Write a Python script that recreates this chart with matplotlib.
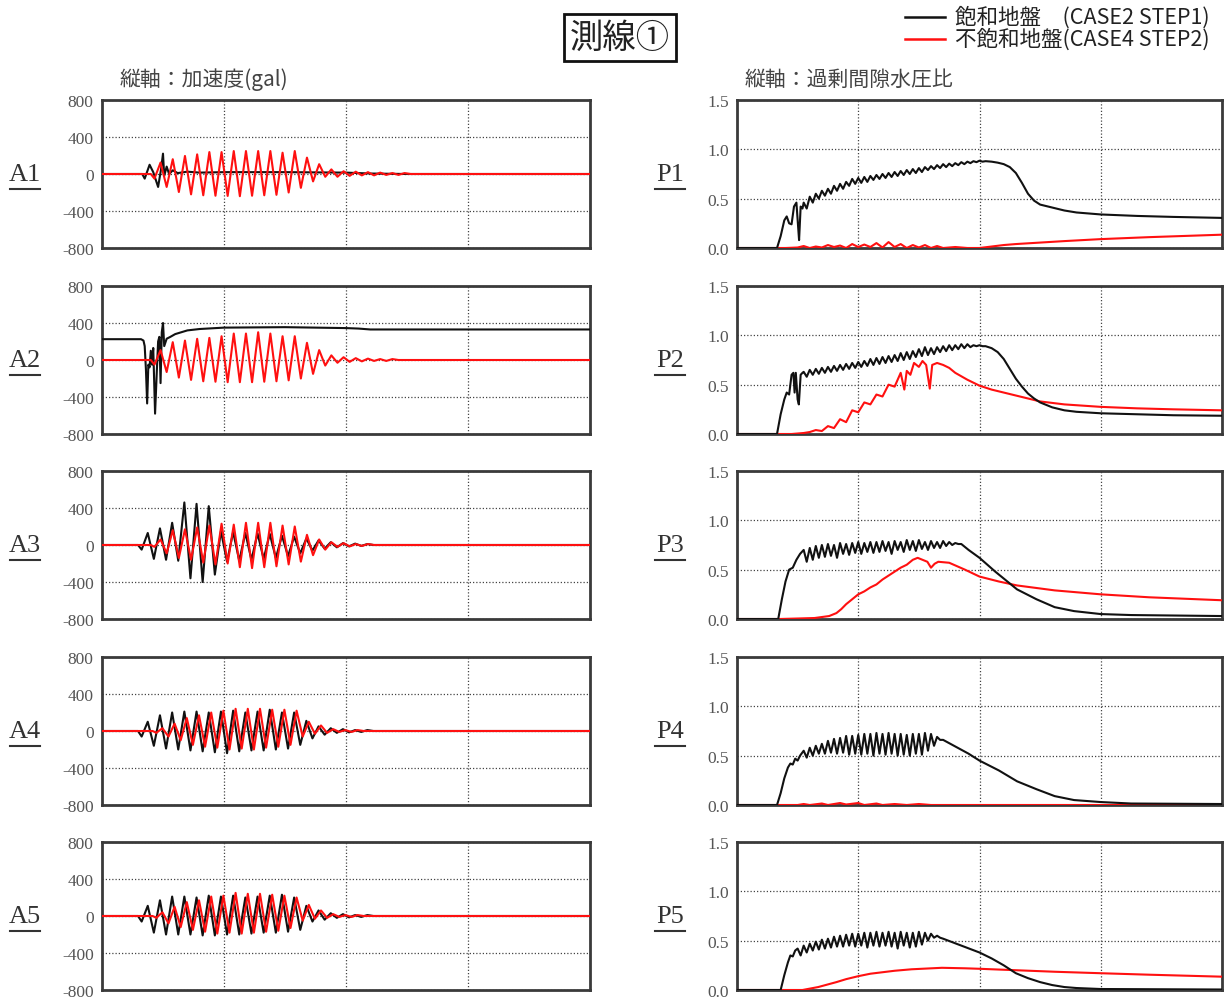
import matplotlib
matplotlib.use("Agg")
import numpy as np
import matplotlib.pyplot as plt
from matplotlib.lines import Line2D

plt.rcParams['font.family'] = ['Noto Sans CJK JP', 'DejaVu Sans']

W, H = 1230, 1003
T_END = 40.0
HALF = 0.5          # half period of the 1 Hz shaking (s)
PORE_STEP = 0.5     # spacing of pore-pressure upper peaks (s)

# ---------------- acceleration (gal) ----------------
# irregular traces: explicit (time, value)
a1_sat_t = [0, 3.3, 3.5, 3.9, 4.2, 4.6, 4.85, 5.0, 5.1, 5.3, 5.5, 5.8, 6.2, 7.0, 8.0, 10.0, 15.0, 20.0, 22.0, 25.0, 40.0]
a1_sat_v = [0, 0, -50, 100, 20, -140, 60, 220, -20, 80, 0, 40, 10, 25, 15, 20, 20, 15, 5, 0, 0]

a2_sat_t = [0, 3.2, 3.4, 3.5, 3.6, 3.7, 3.8, 3.9, 4.0, 4.1, 4.2, 4.35, 4.5, 4.6, 4.7, 4.8,
            4.9, 5.0, 5.1, 5.3, 5.6, 6.0, 6.5, 7.0, 8.0, 10.0, 15.0, 20.0, 21.0, 22.0, 25.0, 40.0]
a2_sat_v = [225, 225, 210, 150, -100, -470, -50, -80, 100, -50, 130, -580, -100, 200, 250, -250,
            300, 400, 150, 230, 250, 280, 300, 320, 335, 350, 355, 345, 340, 330, 330, 330]

# cyclic traces: onset time and successive half-cycle extrema
a1_uns_t0 = 4.3
a1_uns = [-50, 124, -140, 160, -195, 195, -220, 212, -230, 237, -235, 237, -237, 248, -240, 248,
          -235, 248, -230, 248, -225, 230, -200, 248, -150, 177, -80, 106, -30, 50, -30, 30,
          -20, 25, -15, 20, -15, 15, -10, 10, -10, 10]
a2_uns_t0 = 4.3
a2_uns = [-50, 107, -130, 193, -190, 210, -215, 229, -230, 239, -235, 257, -240, 286, -240, 286,
          -240, 300, -235, 286, -230, 257, -220, 257, -200, 186, -150, 107, -60, 50, -30, 30,
          -20, 20, -15, 15, -10, 10, -10, 10]
a3_sat_t0 = 3.25
a3_sat = [-50, 130, -150, 180, -160, 240, -170, 460, -360, 445, -400, 420, -320, 150, -180, 140,
          -170, 130, -160, 125, -150, 120, -140, 100, -120, 90, -90, 70, -60, 50, -40, 30,
          -25, 20, -15, 15, -10, 10]
a3_uns_t0 = 4.3
a3_uns = [-20, 60, -90, 160, -140, 170, -160, 190, -190, 210, -210, 230, -200, 220, -240, 240,
          -250, 240, -240, 240, -230, 210, -210, 200, -180, 110, -110, 60, -50, 30, -20, 20,
          -15, 10, -10, 10]
a4_sat_t0 = 3.25
a4_sat = [-60, 100, -160, 170, -190, 200, -200, 210, -210, 210, -220, 200, -230, 210, -240, 220,
          -220, 200, -210, 210, -210, 230, -200, 200, -190, 200, -150, 110, -80, 50, -40, 30,
          -20, 20, -15, 10, -10, 10]
a4_uns_t0 = 4.45
a4_uns = [-20, 30, -60, 80, -100, 140, -150, 170, -170, 200, -180, 220, -200, 240, -190, 240,
          -200, 240, -180, 230, -170, 230, -150, 220, -60, 100, -30, 60, -20, 20, -10, 10,
          -10, 10]
a5_sat_t0 = 3.25
a5_sat = [-60, 110, -180, 170, -200, 210, -200, 210, -200, 200, -210, 220, -210, 210, -200, 220,
          -200, 200, -190, 210, -180, 220, -180, 230, -170, 200, -150, 110, -60, 60, -40, 30,
          -20, 20, -15, 10, -10, 10]
a5_uns_t0 = 4.45
a5_uns = [-20, 40, -80, 100, -120, 150, -150, 170, -170, 210, -190, 220, -180, 250, -190, 240,
          -180, 240, -170, 230, -160, 220, -130, 200, -50, 120, -30, 60, -20, 20, -10, 10,
          -10, 10]

# ---------------- excess pore-water pressure ratio ----------------
# saturated ground: rise, cyclic band (upper / lower peaks), dissipation
p1_sat_pre_t = [0, 3.3, 3.6, 3.9, 4.1, 4.3, 4.5, 4.7, 4.9, 5.05, 5.12, 5.25, 5.4]
p1_sat_pre_v = [0, 0, 0.12, 0.28, 0.32, 0.25, 0.24, 0.42, 0.46, 0.2, 0.08, 0.42, 0.40]
p1_sat_t0 = 5.5
p1_sat_hi = [0.46, 0.52, 0.55, 0.58, 0.60, 0.63, 0.65, 0.67, 0.70, 0.71, 0.72, 0.73, 0.74, 0.75, 0.76,
             0.77, 0.78, 0.79, 0.80, 0.81, 0.82, 0.83, 0.84, 0.85, 0.855, 0.86, 0.87, 0.875, 0.88, 0.885]
p1_sat_lo = [0.40, 0.46, 0.50, 0.53, 0.55, 0.58, 0.60, 0.63, 0.65, 0.66, 0.67, 0.69, 0.70, 0.71, 0.72,
             0.73, 0.74, 0.75, 0.76, 0.77, 0.79, 0.80, 0.81, 0.82, 0.83, 0.84, 0.85, 0.86, 0.87, 0.875]
p1_sat_post_t = [20.5, 21, 21.5, 22, 22.5, 23, 23.5, 24, 24.5, 25, 26, 27, 28, 30, 33, 36, 40]
p1_sat_post_v = [0.88, 0.875, 0.865, 0.85, 0.82, 0.76, 0.66, 0.55, 0.48, 0.44, 0.41, 0.38, 0.36, 0.34, 0.325, 0.315, 0.305]

p2_sat_pre_t = [0, 3.3, 3.6, 3.9, 4.1, 4.3, 4.5, 4.65, 4.75, 4.85, 5.0, 5.1, 5.25, 5.4]
p2_sat_pre_v = [0, 0, 0.2, 0.35, 0.42, 0.4, 0.6, 0.62, 0.42, 0.62, 0.35, 0.3, 0.6, 0.62]
p2_sat_t0 = 5.5
p2_sat_hi = [0.63, 0.65, 0.66, 0.67, 0.68, 0.69, 0.70, 0.71, 0.72, 0.73, 0.74, 0.76, 0.77, 0.78, 0.79,
             0.80, 0.82, 0.83, 0.84, 0.86, 0.88, 0.87, 0.88, 0.89, 0.90, 0.90, 0.91, 0.91, 0.90, 0.90]
p2_sat_lo = [0.58, 0.60, 0.61, 0.62, 0.63, 0.64, 0.65, 0.66, 0.67, 0.68, 0.69, 0.70, 0.71, 0.72, 0.73,
             0.74, 0.75, 0.76, 0.78, 0.79, 0.80, 0.81, 0.83, 0.84, 0.85, 0.86, 0.87, 0.88, 0.89, 0.89]
p2_sat_post_t = [20.5, 21, 21.5, 22, 22.5, 23, 23.5, 24, 24.5, 25, 26, 27, 28, 30, 33, 36, 40]
p2_sat_post_v = [0.89, 0.87, 0.83, 0.76, 0.66, 0.56, 0.48, 0.41, 0.36, 0.32, 0.27, 0.24, 0.225, 0.21, 0.2, 0.19, 0.185]

p3_sat_pre_t = [0, 3.4, 3.7, 4.0, 4.3, 4.6, 4.9, 5.2]
p3_sat_pre_v = [0, 0, 0.2, 0.38, 0.5, 0.52, 0.6, 0.66]
p3_sat_t0 = 5.5
p3_sat_hi = [0.70, 0.72, 0.74, 0.75, 0.76, 0.75, 0.77, 0.76, 0.77, 0.78, 0.77, 0.78, 0.78,
             0.79, 0.78, 0.79, 0.78, 0.80, 0.79, 0.80, 0.78, 0.79, 0.78, 0.79, 0.78, 0.77]
p3_sat_lo = [0.58, 0.60, 0.62, 0.63, 0.64, 0.62, 0.66, 0.65, 0.67, 0.66, 0.68, 0.67, 0.68,
             0.69, 0.66, 0.70, 0.68, 0.70, 0.69, 0.71, 0.70, 0.72, 0.72, 0.74, 0.75, 0.76]
p3_sat_post_t = [18.5, 19.1, 20, 21.3, 22.4, 23.1, 24.7, 26.2, 27.8, 30, 32.5, 40]
p3_sat_post_v = [0.76, 0.70, 0.62, 0.48, 0.37, 0.30, 0.20, 0.12, 0.08, 0.05, 0.04, 0.03]

p4_sat_pre_t = [0, 3.3, 3.6, 3.9, 4.2, 4.4, 4.6, 4.8, 5.0, 5.2]
p4_sat_pre_v = [0, 0, 0.12, 0.27, 0.38, 0.42, 0.41, 0.47, 0.45, 0.5]
p4_sat_t0 = 5.5
p4_sat_hi = [0.55, 0.58, 0.60, 0.62, 0.65, 0.67, 0.68, 0.70, 0.70, 0.71, 0.72, 0.72,
             0.73, 0.72, 0.73, 0.72, 0.72, 0.71, 0.72, 0.72, 0.73, 0.72, 0.69]
p4_sat_lo = [0.48, 0.50, 0.52, 0.52, 0.53, 0.52, 0.53, 0.51, 0.52, 0.51, 0.52, 0.50,
             0.52, 0.51, 0.52, 0.50, 0.51, 0.50, 0.52, 0.51, 0.55, 0.60, 0.66]
p4_sat_post_t = [17.0, 17.9, 19.1, 20, 21.6, 23.1, 24.7, 26.2, 27.8, 30, 32.5, 40]
p4_sat_post_v = [0.66, 0.60, 0.52, 0.45, 0.35, 0.24, 0.16, 0.09, 0.05, 0.03, 0.015, 0.01]

p5_sat_pre_t = [0, 3.6, 3.9, 4.2, 4.4, 4.6, 4.8]
p5_sat_pre_v = [0, 0, 0.15, 0.28, 0.35, 0.34, 0.40]
p5_sat_t0 = 5.0
p5_sat_hi = [0.42, 0.45, 0.47, 0.49, 0.51, 0.52, 0.54, 0.55, 0.56, 0.57, 0.57, 0.58,
             0.58, 0.59, 0.58, 0.59, 0.58, 0.59, 0.58, 0.58, 0.59, 0.58, 0.57, 0.55]
p5_sat_lo = [0.35, 0.38, 0.40, 0.41, 0.42, 0.43, 0.44, 0.44, 0.45, 0.44, 0.45, 0.43,
             0.45, 0.44, 0.45, 0.44, 0.42, 0.45, 0.43, 0.44, 0.46, 0.50, 0.53, 0.53]
p5_sat_post_t = [17.0, 18.5, 20, 21, 22, 22.5, 23, 24, 25, 26, 27, 28, 30, 40]
p5_sat_post_v = [0.52, 0.45, 0.38, 0.32, 0.25, 0.21, 0.17, 0.12, 0.08, 0.05, 0.03, 0.02, 0.01, 0.005]

# unsaturated ground: explicit (time, value)
p1_uns_t = [0, 4, 5, 5.5, 6, 6.5, 7, 7.5, 8, 8.5, 9, 9.5, 10, 10.5, 11, 11.5, 12, 12.5, 13, 13.5,
            14, 14.5, 15, 15.5, 16, 16.5, 17, 18, 19, 20, 21, 22, 23, 25, 27, 30, 34, 40]
p1_uns_v = [0, 0, 0.005, 0.02, 0.0, 0.015, 0.005, 0.03, 0.01, 0.025, 0.0, 0.04, 0.01, 0.035, 0.01,
            0.05, 0.005, 0.06, 0.01, 0.04, 0.0, 0.03, 0.005, 0.03, 0.0, 0.02, 0.0, 0.01, 0.0, 0.0,
            0.015, 0.03, 0.04, 0.055, 0.07, 0.09, 0.11, 0.135]
p2_uns_t = [0, 4.5, 5, 5.5, 6, 6.5, 7, 7.5, 8, 8.5, 9, 9.5, 10, 10.5, 11, 11.5, 12, 12.5, 13, 13.5,
            13.8, 14.0, 14.3, 14.6, 15.0, 15.3, 15.6, 15.9, 16.1, 16.5, 17, 17.5, 18, 19, 20, 21,
            22, 23, 24, 25, 27, 30, 33, 36, 40]
p2_uns_v = [0, 0, 0.005, 0.01, 0.02, 0.04, 0.03, 0.08, 0.06, 0.15, 0.12, 0.24, 0.22, 0.32, 0.30,
            0.40, 0.38, 0.50, 0.48, 0.62, 0.45, 0.64, 0.60, 0.72, 0.68, 0.74, 0.70, 0.46, 0.70,
            0.72, 0.70, 0.67, 0.62, 0.55, 0.49, 0.45, 0.42, 0.39, 0.36, 0.33, 0.30, 0.275, 0.26,
            0.25, 0.24]
p3_uns_t = [0, 3.5, 5, 6.4, 7, 7.6, 8.2, 8.6, 9, 9.5, 10, 10.5, 11, 11.5, 12, 12.5, 13, 13.5, 14,
            14.5, 14.9, 15.3, 15.7, 16, 16.3, 16.6, 17.5, 18.8, 20, 21.6, 23.1, 26.2, 30, 34, 40]
p3_uns_v = [0, 0, 0.005, 0.01, 0.02, 0.03, 0.06, 0.10, 0.15, 0.20, 0.25, 0.28, 0.32, 0.35, 0.40,
            0.44, 0.48, 0.52, 0.55, 0.60, 0.62, 0.60, 0.58, 0.52, 0.56, 0.58, 0.57, 0.50, 0.43,
            0.38, 0.34, 0.29, 0.25, 0.22, 0.19]
p4_uns_t = [0, 5, 5.5, 6, 7, 7.5, 8.5, 9, 10, 10.5, 11.5, 12, 13, 14, 15, 16, 40]
p4_uns_v = [0, 0, 0.01, 0, 0.015, 0, 0.02, 0.005, 0.02, 0, 0.015, 0, 0.01, 0, 0.01, 0, 0]
p5_uns_t = [0, 5.4, 6.7, 8.2, 9, 10, 11, 12, 13, 14.4, 16.9, 18.8, 20, 23.1, 26.2, 30, 34, 40]
p5_uns_v = [0, 0, 0.03, 0.08, 0.11, 0.14, 0.165, 0.18, 0.195, 0.21, 0.225, 0.22, 0.215, 0.20,
            0.185, 0.17, 0.155, 0.135]

row_acc = ["A1", "A2", "A3", "A4", "A5"]
row_pore = ["P1", "P2", "P3", "P4", "P5"]
acc_ticks = [-800, -400, 0, 400, 800]
acc_labels = ["-800", "-400", "0", "400", "800"]
pore_ticks = [0.0, 0.5, 1.0, 1.5]
pore_labels = ["0.0", "0.5", "1.0", "1.5"]
time_grid = [10, 20, 30]

legend_labels = ["飽和地盤　(CASE2 STEP1)", "不飽和地盤(CASE4 STEP2)"]
title_text = "測線①"
acc_caption = "縦軸：加速度(gal)"
pore_caption = "縦軸：過剰間隙水圧比"


def cyclic(t0, extrema):
    """Trace that is zero before t0, then passes through each half-cycle extremum."""
    t = [0.0, t0 - 0.3] + [t0 + HALF * k for k in range(len(extrema))]
    v = [0.0, 0.0] + list(extrema)
    t += [t[-1] + HALF, T_END]
    v += [0.0, 0.0]
    return np.array(t), np.array(v)


def pore(pre_t, pre_v, t0, hi, lo, post_t, post_v):
    """Rise, cyclic band alternating upper/lower peaks, then dissipation."""
    band_t, band_v = [], []
    for k, (h, l) in enumerate(zip(hi, lo)):
        band_t += [t0 + PORE_STEP * k, t0 + PORE_STEP * k + PORE_STEP / 2]
        band_v += [h, l]
    return (np.array(list(pre_t) + band_t + list(post_t)),
            np.array(list(pre_v) + band_v + list(post_v)))


acc_series = [
    ((np.array(a1_sat_t), np.array(a1_sat_v)), cyclic(a1_uns_t0, a1_uns)),
    ((np.array(a2_sat_t), np.array(a2_sat_v)), cyclic(a2_uns_t0, a2_uns)),
    (cyclic(a3_sat_t0, a3_sat), cyclic(a3_uns_t0, a3_uns)),
    (cyclic(a4_sat_t0, a4_sat), cyclic(a4_uns_t0, a4_uns)),
    (cyclic(a5_sat_t0, a5_sat), cyclic(a5_uns_t0, a5_uns)),
]
pore_series = [
    (pore(p1_sat_pre_t, p1_sat_pre_v, p1_sat_t0, p1_sat_hi, p1_sat_lo, p1_sat_post_t, p1_sat_post_v),
     (np.array(p1_uns_t), np.array(p1_uns_v))),
    (pore(p2_sat_pre_t, p2_sat_pre_v, p2_sat_t0, p2_sat_hi, p2_sat_lo, p2_sat_post_t, p2_sat_post_v),
     (np.array(p2_uns_t), np.array(p2_uns_v))),
    (pore(p3_sat_pre_t, p3_sat_pre_v, p3_sat_t0, p3_sat_hi, p3_sat_lo, p3_sat_post_t, p3_sat_post_v),
     (np.array(p3_uns_t), np.array(p3_uns_v))),
    (pore(p4_sat_pre_t, p4_sat_pre_v, p4_sat_t0, p4_sat_hi, p4_sat_lo, p4_sat_post_t, p4_sat_post_v),
     (np.array(p4_uns_t), np.array(p4_uns_v))),
    (pore(p5_sat_pre_t, p5_sat_pre_v, p5_sat_t0, p5_sat_hi, p5_sat_lo, p5_sat_post_t, p5_sat_post_v),
     (np.array(p5_uns_t), np.array(p5_uns_v))),
]

SAT_COLOR = "#111111"
UNS_COLOR = "#ff1010"
SPINE = "#3a3a3a"
TICK_COLOR = "#555555"
SERIF = ["Liberation Serif", "DejaVu Serif"]
LW = 1.5

fig = plt.figure(figsize=(W / 100, H / 100), dpi=100)


def px_box(x0, x1, top, height):
    return [x0 / W, 1 - (top + height) / H, (x1 - x0) / W, height / H]


def style_axes(ax, ticks, labels, ylim):
    ax.set_xlim(0, T_END)
    ax.set_ylim(*ylim)
    ax.set_xticks(time_grid)
    ax.set_xticklabels([])
    ax.set_yticks(ticks)
    ax.set_yticklabels(labels, fontfamily=SERIF, fontsize=12.5, color=TICK_COLOR)
    ax.tick_params(length=0, pad=6)
    ax.grid(True, color="#444444", linestyle=(0, (1, 1.6)), linewidth=0.9)
    ax.set_axisbelow(True)
    for s in ax.spines.values():
        s.set_color(SPINE)
        s.set_linewidth(2.0)


def row_label(text, xc, yc):
    fig.text(xc / W, 1 - yc / H, text, ha="center", va="center",
             fontfamily=SERIF, fontsize=19, color="#333333")
    fig.add_artist(Line2D([(xc - 15) / W, (xc + 15) / W], [1 - (yc + 15) / H] * 2,
                          transform=fig.transFigure, color="#333333", linewidth=1.5))


row_tops = [101, 287, 472, 658, 843]
ROW_H = 148

for i, top in enumerate(row_tops):
    axl = fig.add_axes(px_box(102, 590, top, ROW_H))
    (ts, vs), (tu, vu) = acc_series[i]
    axl.plot(ts, vs, color=SAT_COLOR, linewidth=LW, zorder=3)
    axl.plot(tu, vu, color=UNS_COLOR, linewidth=LW, zorder=4)
    style_axes(axl, acc_ticks, acc_labels, (-800, 800))

    axr = fig.add_axes(px_box(737, 1222, top, ROW_H))
    (ts, vs), (tu, vu) = pore_series[i]
    axr.plot(tu, vu, color=UNS_COLOR, linewidth=LW, zorder=3)
    axr.plot(ts, vs, color=SAT_COLOR, linewidth=LW, zorder=4)
    style_axes(axr, pore_ticks, pore_labels, (0, 1.5))

    yc = top + ROW_H / 2
    row_label(row_acc[i], 25, yc)
    row_label(row_pore[i], 670, yc)

# captions above each column
fig.text(120 / W, 1 - 80 / H, acc_caption, ha="left", va="center", fontsize=15, color="#444444")
fig.text(745 / W, 1 - 80 / H, pore_caption, ha="left", va="center", fontsize=15, color="#444444")

# boxed title
fig.text(620 / W, 1 - 38 / H, title_text, ha="center", va="center", fontsize=24, color="#222222",
         bbox=dict(boxstyle="square,pad=0.18", facecolor="white", edgecolor="#111111", linewidth=2))

# legend
for k, (lab, col) in enumerate(zip(legend_labels, [SAT_COLOR, UNS_COLOR])):
    y = 1 - (18 + 22 * k) / H
    fig.add_artist(Line2D([905 / W, 945 / W], [y, y], transform=fig.transFigure,
                          color=col, linewidth=1.8))
    fig.text(955 / W, y, lab, ha="left", va="center", fontsize=15.5, color="#222222")

fig.savefig("out.png", dpi=100, facecolor="white")
